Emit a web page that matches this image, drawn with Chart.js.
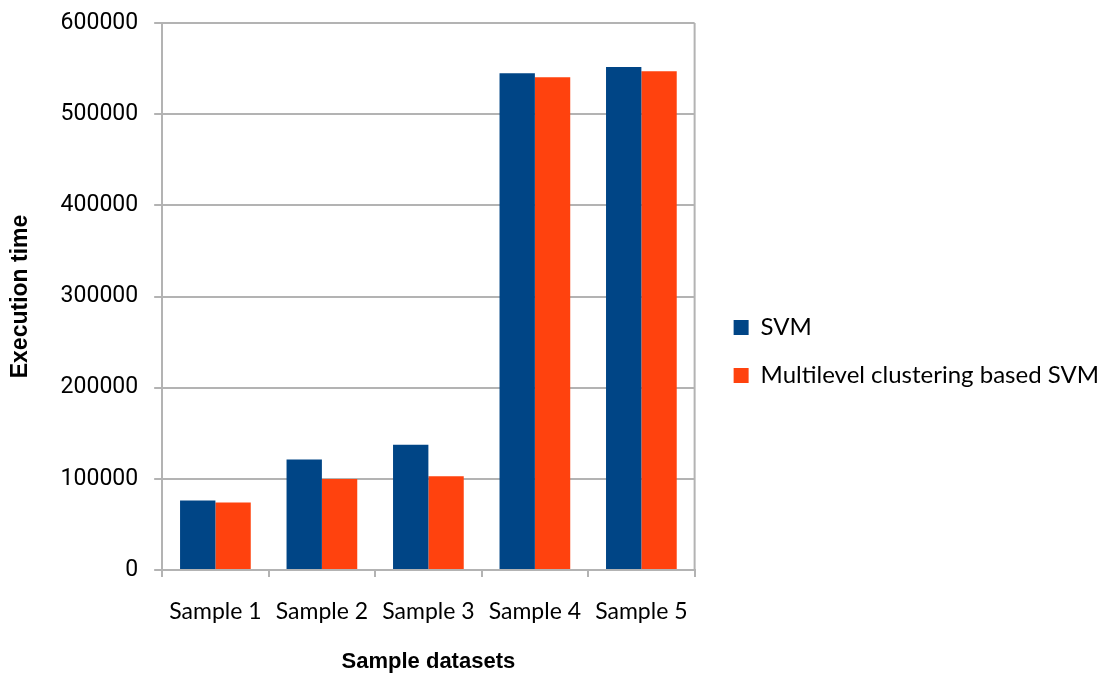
<!DOCTYPE html>
<html>
<head>
<meta charset="utf-8">
<script src="https://cdn.jsdelivr.net/npm/chart.js@4/dist/chart.umd.min.js"></script>
<style>
  html, body { margin: 0; padding: 0; background: #fff; }
  #wrap { width: 1109px; height: 675px; }
</style>
</head>
<body>
<div id="wrap"><canvas id="exec-chart"></canvas></div>
<script>
const categories = ["Sample 1", "Sample 2", "Sample 3", "Sample 4", "Sample 5"];
const svmTimes = [76300, 121300, 137500, 544800, 551700];
const mlcSvmTimes = [74100, 99700, 102700, 540400, 547000];
const yTicks = [0, 100000, 200000, 300000, 400000, 500000, 600000];

const axisGray = '#b3b3b3';

// right edge of the plot wall
const rightWall = {
  id: 'rightWall',
  afterDatasetsDraw(chart) {
    const { ctx, chartArea } = chart;
    ctx.save();
    ctx.strokeStyle = axisGray;
    ctx.lineWidth = 2;
    ctx.beginPath();
    ctx.moveTo(chartArea.right, chartArea.top);
    ctx.lineTo(chartArea.right, chartArea.bottom);
    ctx.stroke();
    ctx.restore();
  }
};

const exec_ctx = document.getElementById('exec-chart').getContext('2d');
const execChart = new Chart(exec_ctx, {
    type: 'bar',
    plugins: [rightWall],
    data: {
        labels: categories,
        datasets: [{
            label: 'SVM',
            data: svmTimes,
            backgroundColor: '#004586',
            borderWidth: 0
        }, {
            label: 'Multilevel clustering based SVM',
            data: mlcSvmTimes,
            backgroundColor: '#ff420e',
            borderWidth: 0
        }]
    },
    options: {
      responsive: true,
      maintainAspectRatio: false,
      animation: false,
      categoryPercentage: 0.664,
      barPercentage: 1.0,
      layout: {
        padding: { left: 7, top: 0, right: 0, bottom: 0 }
      },
      scales: {
        x: {
          grid: {
            offset: true,
            drawOnChartArea: false,
            drawTicks: true,
            tickLength: 7,
            color: axisGray,
            lineWidth: 2
          },
          border: { color: axisGray, width: 2 },
          ticks: {
            color: '#000',
            padding: 21,
            font: { family: 'Lato', size: 23 }
          },
          title: {
            display: true,
            text: 'Sample datasets',
            color: '#000',
            padding: { top: 2, bottom: 0 },
            font: { family: 'Liberation Sans', size: 22, weight: 'bold' }
          }
        },
        y: {
          min: 0,
          max: 600000,
          afterBuildTicks: (axis) => { axis.ticks = yTicks.map(v => ({ value: v })); },
          afterFit: (scale) => { scale.paddingTop = 23; },
          grid: {
            color: axisGray,
            lineWidth: 2,
            tickLength: 8
          },
          border: { color: axisGray, width: 2 },
          ticks: {
            color: '#000',
            padding: 16,
            font: { family: 'Roboto', size: 23 },
            callback: (v) => String(v)
          },
          title: {
            display: true,
            text: 'Execution time',
            color: '#000',
            padding: { top: 0, bottom: 10 },
            font: { family: 'Liberation Sans', size: 23, weight: 'bold' }
          }
        },
        // empty spacer between the plot and the legend
        gap: {
          position: 'right',
          min: 0,
          max: 1,
          ticks: { display: false },
          grid: { display: false, drawTicks: false },
          border: { display: false },
          afterFit: (scale) => { scale.width = 15; }
        }
      },
      plugins: {
        tooltip: { enabled: false },
        legend: {
          position: 'right',
          align: 'center',
          maxWidth: 420,
          title: {
            display: true,
            text: ' ',
            padding: 8,
            font: { size: 10 }
          },
          labels: {
            color: '#000',
            boxWidth: 15,
            boxHeight: 15,
            padding: 24,
            font: { family: 'Lato', size: 24 }
          }
        }
      }
    }
});
</script>
</body>
</html>
